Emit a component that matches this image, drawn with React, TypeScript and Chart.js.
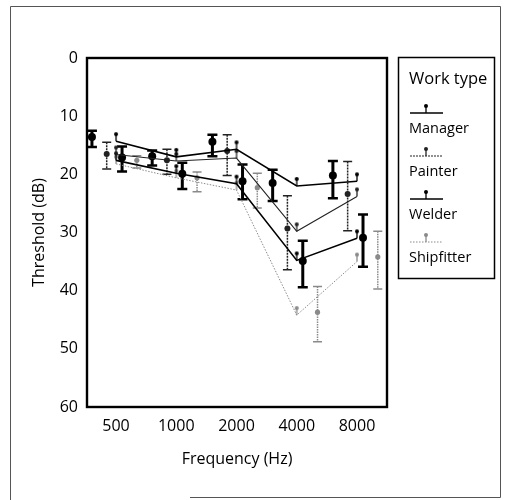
import React, { useEffect, useRef } from "react";
import { Chart, registerables } from "chart.js";

Chart.register(...registerables);

// ---------- data ----------
const frequencies = [500, 1000, 2000, 4000, 8000];
const xTickValues = [500, 1000, 2000, 4000, 8000];
const yTickValues = [0, 10, 20, 30, 40, 50, 60];
const workTypes = ["Manager", "Painter", "Welder", "Shipfitter"];
// position of each group's error bar, in octaves relative to the test frequency
const octaveOffsets = [-0.4, -0.155, 0.1, 0.345];

// observed means with interval limits (dB)
const managerMean = [13.6, 16.9, 14.4, 21.5, 20.2];
const managerLow = [12.5, 15.9, 13.2, 19.2, 17.7];
const managerHigh = [15.3, 18.5, 16.9, 24.6, 24.1];

const painterMean = [16.5, 17.6, 16.0, 29.3, 23.4];
const painterLow = [14.5, 15.7, 13.2, 23.7, 17.8];
const painterHigh = [19.1, 20.0, 20.2, 36.4, 29.7];

const welderMean = [17.1, 19.9, 21.2, 34.9, 30.9];
const welderLow = [15.2, 18.0, 18.3, 31.4, 26.9];
const welderHigh = [19.5, 22.5, 24.3, 39.4, 35.9];

const shipfitterMean = [17.6, 20.6, 22.3, 43.7, 34.2];
const shipfitterLow = [16.8, 19.6, 19.8, 39.3, 29.8];
const shipfitterHigh = [18.9, 23.0, 25.8, 48.8, 39.7];

// fitted lines (dB)
const managerLine = [14.3, 17.0, 15.7, 22.0, 21.2];
const painterLine = [16.6, 17.7, 17.2, 29.8, 23.8];
const welderLine = [17.6, 19.8, 21.6, 34.8, 31.0];
const shipfitterLine = [18.2, 20.6, 22.7, 44.2, 35.0];

const means = [managerMean, painterMean, welderMean, shipfitterMean];
const lows = [managerLow, painterLow, welderLow, shipfitterLow];
const highs = [managerHigh, painterHigh, welderHigh, shipfitterHigh];
const lines = [managerLine, painterLine, welderLine, shipfitterLine];

// ---------- styles ----------
const FONT = "'Open Sans', 'DejaVu Sans', sans-serif";
const seriesStyles = [
  { color: "#000", lineWidth: 1.6, lineDash: [] as number[], legendDash: [] as number[], barWidth: 3, barDash: [] as number[], capW: 10, capLW: 2.5, dotR: 4 },
  { color: "#222", lineWidth: 1.1, lineDash: [] as number[], legendDash: [2, 1], barWidth: 1.5, barDash: [2, 1], capW: 9, capLW: 1.5, dotR: 3 },
  { color: "#000", lineWidth: 1.6, lineDash: [] as number[], legendDash: [] as number[], barWidth: 3, barDash: [] as number[], capW: 10, capLW: 2.5, dotR: 4 },
  { color: "#8a8a8a", lineWidth: 1, lineDash: [1.5, 1.5], legendDash: [1.5, 1.5], barWidth: 1.5, barDash: [1.5, 1], capW: 9, capLW: 1.5, dotR: 2.6 },
];

function makePin(color: string) {
  const stem = 7;
  const r = 2;
  const c = document.createElement("canvas");
  const w = 2 * r + 2;
  const h = 2 * (stem + r + 1);
  c.width = w;
  c.height = h;
  const g = c.getContext("2d")!;
  g.strokeStyle = color;
  g.fillStyle = color;
  g.lineWidth = 1.3;
  g.beginPath();
  g.moveTo(w / 2, h / 2);
  g.lineTo(w / 2, h / 2 - stem);
  g.stroke();
  g.beginPath();
  g.arc(w / 2, h / 2 - stem, r, 0, Math.PI * 2);
  g.fill();
  return c;
}

const errorBarPlugin = {
  id: "errorBars",
  beforeDatasetsDraw(chart: any) {
    const ctx = chart.ctx;
    const yScale = chart.scales.y;
    chart.data.datasets.forEach((ds: any, di: number) => {
      if (!ds.errLow) return;
      const meta = chart.getDatasetMeta(di);
      const st = ds.errStyle;
      ctx.save();
      ctx.strokeStyle = st.color;
      meta.data.forEach((pt: any, i: number) => {
        const x = pt.x;
        const y1 = yScale.getPixelForValue(ds.errLow[i]);
        const y2 = yScale.getPixelForValue(ds.errHigh[i]);
        ctx.setLineDash(st.barDash);
        ctx.lineWidth = st.barWidth;
        ctx.beginPath();
        ctx.moveTo(x, y1);
        ctx.lineTo(x, y2);
        ctx.stroke();
        ctx.setLineDash([]);
        ctx.lineWidth = st.capLW;
        ctx.beginPath();
        ctx.moveTo(x - st.capW / 2, y1);
        ctx.lineTo(x + st.capW / 2, y1);
        ctx.moveTo(x - st.capW / 2, y2);
        ctx.lineTo(x + st.capW / 2, y2);
        ctx.stroke();
      });
      ctx.restore();
    });
  },
};

export default function App() {
  const ref = useRef<HTMLCanvasElement | null>(null);

  useEffect(() => {
    if (!ref.current) return;
    const pins = seriesStyles.map((s) => makePin(s.color));

    const datasets: any[] = [];
    workTypes.forEach((name, si) => {
      const st = seriesStyles[si];
      datasets.push({
        type: "line",
        label: name,
        data: frequencies.map((f, i) => ({ x: f, y: lines[si][i] })),
        borderColor: st.color,
        borderWidth: st.lineWidth,
        borderDash: st.lineDash,
        pointStyle: pins[si],
        pointRadius: 5,
        tension: 0,
        fill: false,
        order: 1,
      });
    });
    workTypes.forEach((name, si) => {
      const st = seriesStyles[si];
      datasets.push({
        type: "scatter",
        label: name + " mean",
        data: frequencies.map((f, i) => ({ x: f * Math.pow(2, octaveOffsets[si]), y: means[si][i] })),
        backgroundColor: st.color,
        borderColor: st.color,
        borderWidth: 0,
        pointStyle: "circle",
        pointRadius: st.dotR,
        showLine: false,
        errLow: lows[si],
        errHigh: highs[si],
        errStyle: { color: st.color, barWidth: st.barWidth, barDash: st.barDash, capW: st.capW, capLW: st.capLW },
        order: 2,
      });
    });

    const decorPlugin = {
      id: "decor",
      afterDraw(chart: any) {
        const ctx = chart.ctx;
        const a = chart.chartArea;
        ctx.save();
        // plot box
        ctx.strokeStyle = "#000";
        ctx.lineWidth = 2.4;
        ctx.strokeRect(a.left, a.top, a.right - a.left, a.bottom - a.top);
        // outer frame
        ctx.strokeStyle = "#555";
        ctx.lineWidth = 1;
        ctx.beginPath();
        ctx.moveTo(10.5, 500);
        ctx.lineTo(10.5, 6.5);
        ctx.lineTo(500.5, 6.5);
        ctx.lineTo(500.5, 497.5);
        ctx.lineTo(190, 497.5);
        ctx.stroke();
        // legend box
        const lx = 398, ly = 57, lw = 96, lh = 221;
        ctx.strokeStyle = "#000";
        ctx.lineWidth = 1.5;
        ctx.strokeRect(lx + 0.5, ly + 0.5, lw, lh);
        ctx.fillStyle = "#000";
        ctx.textAlign = "left";
        ctx.textBaseline = "alphabetic";
        ctx.font = `16.5px ${FONT}`;
        ctx.fillText("Work type", 409, 84);
        workTypes.forEach((name, si) => {
          const st = seriesStyles[si];
          const sy = 113 + si * 43;
          ctx.strokeStyle = st.color;
          ctx.lineWidth = st.lineWidth;
          ctx.setLineDash(st.legendDash);
          ctx.beginPath();
          ctx.moveTo(410, sy);
          ctx.lineTo(443, sy);
          ctx.stroke();
          ctx.setLineDash([]);
          const p = pins[si];
          ctx.drawImage(p, 426 - p.width / 2, sy - p.height / 2);
          ctx.fillStyle = "#000";
          ctx.font = `14.5px ${FONT}`;
          ctx.fillText(name, 409, 133 + si * 43);
        });
        ctx.restore();
      },
    };

    const chart = new Chart(ref.current, {
      data: { datasets },
      options: {
        responsive: false,
        animation: false,
        devicePixelRatio: 1,
        layout: { padding: { left: 0, top: 58, right: 121, bottom: 0 } },
        plugins: { legend: { display: false }, tooltip: { enabled: false } },
        scales: {
          x: {
            type: "logarithmic",
            position: "bottom",
            min: 358,
            max: 11300,
            grid: { display: false, drawTicks: false },
            border: { display: false },
            afterBuildTicks: (s: any) => {
              s.ticks = xTickValues.map((v) => ({ value: v }));
            },
            afterFit: (s: any) => {
              s.height = 93;
            },
            ticks: {
              autoSkip: false,
              maxRotation: 0,
              padding: 10,
              color: "#000",
              font: { family: FONT, size: 16 },
              callback: (v: any) => String(v),
            },
            title: {
              display: true,
              text: "Frequency (Hz)",
              color: "#000",
              font: { family: FONT, size: 16 },
              padding: { top: 0, bottom: 31 },
            },
          },
          y: {
            type: "linear",
            reverse: true,
            min: 0,
            max: 60,
            grid: { display: false, drawTicks: false },
            border: { display: false },
            afterBuildTicks: (s: any) => {
              s.ticks = yTickValues.map((v) => ({ value: v }));
            },
            afterFit: (s: any) => {
              s.width = 87;
            },
            ticks: {
              padding: 9,
              color: "#000",
              font: { family: FONT, size: 16 },
            },
            title: {
              display: true,
              text: "Threshold (dB)",
              color: "#000",
              font: { family: FONT, size: 16 },
              padding: { top: 30, bottom: 0 },
            },
          },
        },
      } as any,
      plugins: [errorBarPlugin, decorPlugin],
    } as any);
    return () => chart.destroy();
  }, []);

  return (
    <div style={{ position: "fixed", left: 0, top: 0, width: 508, height: 500, background: "#fff" }}>
      <canvas ref={ref} width={508} height={500} style={{ display: "block" }} />
    </div>
  );
}
